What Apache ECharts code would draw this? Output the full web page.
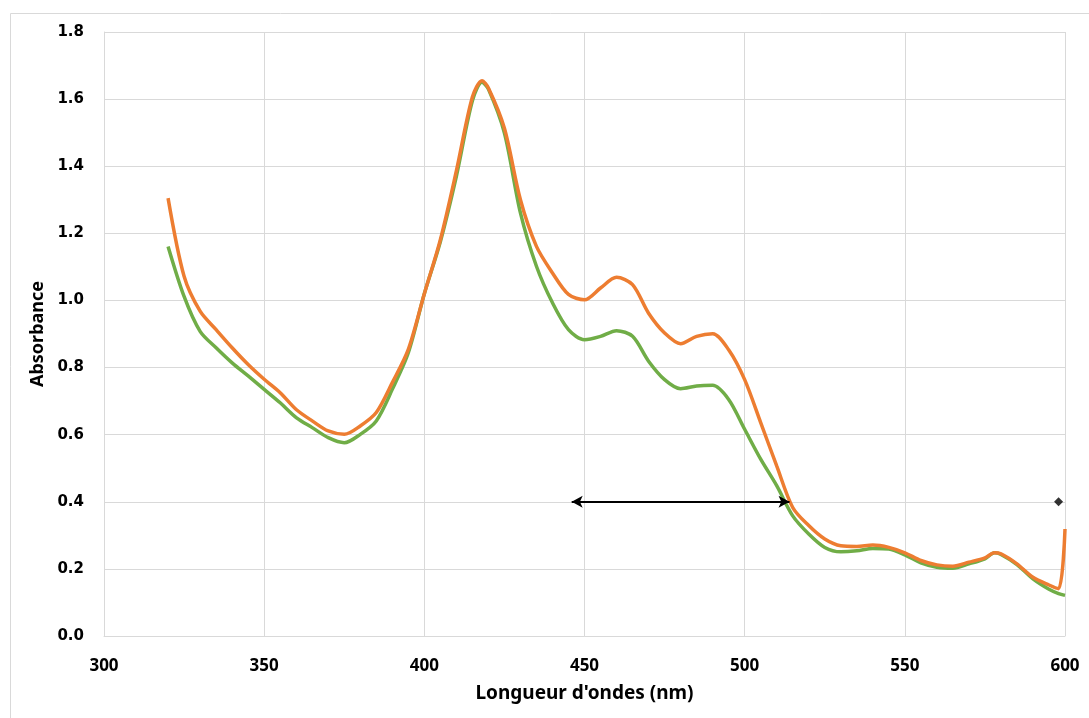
<!DOCTYPE html>
<html>
<head>
<meta charset="utf-8">
<script src="https://cdn.jsdelivr.net/npm/echarts@6/dist/echarts.min.js"></script>
<style>
  html, body { margin: 0; padding: 0; background: #fff; }
  #main { width: 1089px; height: 718px; }
</style>
</head>
<body>
<div id="main"></div>
<script>
var myChart = echarts.init(document.getElementById('main'));

// longueurs d'onde (nm)
var wavelengths = [320, 325, 330, 335, 340, 345, 350, 355, 360, 365, 370, 375, 380, 385, 390, 395, 400, 405, 410, 415,
    418, 420, 425, 430, 435, 440, 445, 450, 455, 460, 465, 470, 475, 480, 485, 490, 495, 500, 505, 510,
    515, 520, 525, 530, 535, 540, 545, 550, 555, 560, 565, 570, 575, 578, 580, 585, 590, 595, 598, 600];

var absOrange = [1.305, 1.072, 0.968, 0.913, 0.859, 0.809, 0.765, 0.725, 0.675, 0.641, 0.611, 0.601, 0.626, 0.666, 0.755, 0.854, 1.02, 1.181, 1.386, 1.606,
    1.655, 1.633, 1.513, 1.30, 1.161, 1.082, 1.018, 1.002, 1.037, 1.069, 1.047, 0.962, 0.903, 0.871, 0.893, 0.901, 0.853, 0.764, 0.636, 0.507,
    0.383, 0.329, 0.289, 0.269, 0.267, 0.271, 0.264, 0.248, 0.225, 0.212, 0.208, 0.220, 0.233, 0.248, 0.245, 0.215, 0.175, 0.152, 0.141, 0.319];

var absGreen = [1.161, 1.012, 0.908, 0.859, 0.814, 0.775, 0.735, 0.695, 0.651, 0.621, 0.591, 0.576, 0.601, 0.641, 0.735, 0.844, 1.02, 1.175, 1.37, 1.595,
    1.65, 1.63, 1.499, 1.261, 1.102, 0.993, 0.913, 0.883, 0.893, 0.910, 0.893, 0.819, 0.764, 0.737, 0.745, 0.747, 0.705, 0.616, 0.527, 0.448,
    0.358, 0.304, 0.264, 0.251, 0.254, 0.261, 0.259, 0.242, 0.218, 0.205, 0.202, 0.215, 0.230, 0.248, 0.243, 0.213, 0.170, 0.139, 0.126, 0.121];

// flèche double et repère
var arrowFrom = [446, 0.4];
var arrowTo = [514, 0.4];
var markerPoint = [[598, 0.4]];

function pairs(xs, ys) {
    var out = [];
    for (var i = 0; i < xs.length; i++) {
        out.push([xs[i], ys[i]]);
    }
    return out;
}

var gridColor = '#d9d9d9';

option = {
    animation: false,
    graphic: [{
        type: 'rect',
        left: 8, top: 11,
        shape: { width: 1200, height: 800 },
        style: { fill: 'none', stroke: '#d9d9d9', lineWidth: 1 },
        silent: true
    }],
    grid: {
        left: 104,
        right: 24,
        top: 32,
        bottom: 82
    },
    xAxis: {
        type: 'value',
        min: 300,
        max: 600,
        interval: 50,
        name: "Longueur d'ondes (nm)",
        nameLocation: 'middle',
        nameGap: 48,
        nameTextStyle: {
            fontFamily: 'Liberation Sans Narrow, Noto Sans, sans-serif',
            fontWeight: 'bold',
            fontSize: 19,
            color: '#000'
        },
        axisLine: { lineStyle: { color: gridColor } },
        axisTick: { show: false },
        axisLabel: {
            margin: 22,
            fontFamily: 'Noto Sans, sans-serif',
            fontWeight: 'bold',
            fontSize: 17,
            color: '#000'
        },
        splitLine: { lineStyle: { color: gridColor, width: 1 } }
    },
    yAxis: {
        type: 'value',
        min: 0,
        max: 1.8,
        interval: 0.2,
        name: 'Absorbance',
        nameLocation: 'middle',
        nameGap: 56,
        nameTextStyle: {
            fontFamily: 'Liberation Sans Narrow, Noto Sans, sans-serif',
            fontWeight: 'bold',
            fontSize: 18,
            color: '#000'
        },
        axisLine: { show: true, lineStyle: { color: gridColor } },
        axisTick: { show: false },
        axisLabel: {
            margin: 20,
            fontFamily: 'DejaVu Sans, sans-serif',
            fontWeight: 'bold',
            fontSize: 15,
            color: '#000',
            formatter: function (v) { return v.toFixed(1); }
        },
        splitLine: { lineStyle: { color: gridColor, width: 1 } }
    },
    series: [
        {
            name: 'vert',
            type: 'line',
            data: pairs(wavelengths, absGreen),
            smooth: 0.3,
            showSymbol: false,
            lineStyle: { color: '#70AD47', width: 3.5 },
            z: 2
        },
        {
            name: 'orange',
            type: 'line',
            data: pairs(wavelengths, absOrange),
            smooth: 0.3,
            showSymbol: false,
            lineStyle: { color: '#ED7D31', width: 3.5 },
            z: 3,
            markLine: {
                silent: true,
                symbol: ['arrow', 'arrow'],
                symbolSize: [9, 11],
                label: { show: false },
                lineStyle: { color: '#000', width: 2, type: 'solid' },
                data: [[{ coord: arrowFrom }, { coord: arrowTo }]]
            }
        },
        {
            name: 'repere',
            type: 'scatter',
            data: markerPoint,
            symbol: 'diamond',
            symbolSize: 9,
            itemStyle: { color: '#000' },
            z: 4
        }
    ]
};

myChart.setOption(option);
</script>
</body>
</html>
